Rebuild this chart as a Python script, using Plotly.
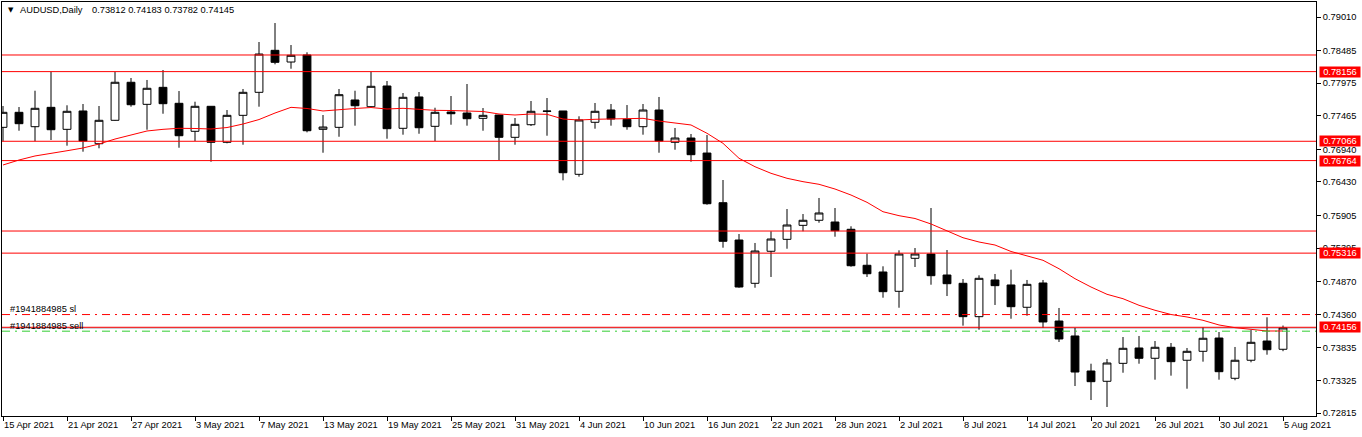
import plotly.graph_objects as go
import pandas as pd

# ---------------- data ----------------
dates = pd.bdate_range("2021-04-15", "2021-08-05")
idx = list(range(len(dates)))

opens = [0.77284, 0.77519, 0.77294, 0.77597, 0.77253, 0.77540, 0.77028, 0.77394, 0.77989, 0.77644,
         0.77910, 0.77660, 0.77222, 0.77613, 0.77050, 0.77472, 0.77832, 0.78489, 0.78306, 0.78416,
         0.77253, 0.77284, 0.77712, 0.77607, 0.77931, 0.77269, 0.77759, 0.77300, 0.77524, 0.77508,
         0.77425, 0.77477, 0.77128, 0.77325, 0.77540, 0.77540, 0.76549, 0.77363, 0.77555, 0.77410,
         0.77294, 0.77555, 0.77050, 0.77117, 0.76882, 0.76105, 0.75521, 0.74844, 0.75345, 0.75532,
         0.75751, 0.75830, 0.75803, 0.75689, 0.75126, 0.75021, 0.74719, 0.75235, 0.75302, 0.74974,
         0.74844, 0.74322, 0.74896, 0.74818, 0.74469, 0.74849, 0.74254, 0.74020, 0.73472, 0.73311,
         0.73592, 0.73832, 0.73671, 0.73843, 0.73640, 0.73780, 0.73988, 0.73358, 0.73640, 0.73941,
         0.73812]
highs = [0.77618, 0.77602, 0.77857, 0.78154, 0.77629, 0.77649, 0.77618, 0.78154, 0.78056, 0.78025,
         0.78181, 0.77852, 0.77685, 0.77618, 0.77555, 0.77884, 0.78619, 0.78916, 0.78572, 0.78458,
         0.77477, 0.77884, 0.77857, 0.78154, 0.78009, 0.77821, 0.77837, 0.77591, 0.77774, 0.77962,
         0.77586, 0.77482, 0.77430, 0.77696, 0.77743, 0.77540, 0.77457, 0.77665, 0.77649, 0.77633,
         0.77649, 0.77759, 0.77274, 0.77180, 0.77164, 0.76460, 0.75615, 0.75475, 0.75658, 0.76006,
         0.75928, 0.76179, 0.76022, 0.75736, 0.75307, 0.75110, 0.75360, 0.75396, 0.76022, 0.75365,
         0.74911, 0.74969, 0.74990, 0.75057, 0.74896, 0.74896, 0.74458, 0.74145, 0.73586, 0.73660,
         0.74004, 0.74020, 0.73941, 0.73910, 0.73832, 0.74156, 0.74082, 0.73848, 0.74114, 0.74312,
         0.74183]
lows = [0.77066, 0.77231, 0.77066, 0.77086, 0.76997, 0.76903, 0.76956, 0.77388, 0.77607, 0.77247,
        0.77497, 0.76965, 0.77070, 0.76746, 0.77034, 0.77012, 0.77607, 0.78270, 0.78201, 0.77206,
        0.76887, 0.77137, 0.77310, 0.77597, 0.77106, 0.77169, 0.77184, 0.77070, 0.77325, 0.77310,
        0.77231, 0.76773, 0.77012, 0.77305, 0.77153, 0.76455, 0.76512, 0.77263, 0.77310, 0.77247,
        0.77169, 0.76887, 0.76934, 0.76746, 0.76074, 0.75401, 0.74775, 0.74775, 0.74943, 0.75385,
        0.75658, 0.75792, 0.75573, 0.75104, 0.74943, 0.74619, 0.74462, 0.75099, 0.74822, 0.74645,
        0.74181, 0.74118, 0.74505, 0.74290, 0.74337, 0.74145, 0.73926, 0.73237, 0.73018, 0.72909,
        0.73445, 0.73586, 0.73336, 0.73399, 0.73195, 0.73618, 0.73336, 0.73327, 0.73608, 0.73727,
        0.73782]
closes = [0.77519, 0.77341, 0.77582, 0.77247, 0.77535, 0.77070, 0.77394, 0.77989, 0.77638, 0.77895,
          0.77654, 0.77153, 0.77613, 0.77050, 0.77472, 0.77832, 0.78431, 0.78301, 0.78411, 0.77231,
          0.77289, 0.77795, 0.77622, 0.77926, 0.77263, 0.77754, 0.77278, 0.77519, 0.77497, 0.77419,
          0.77472, 0.77128, 0.77331, 0.77535, 0.77535, 0.76574, 0.77399, 0.77535, 0.77414, 0.77294,
          0.77555, 0.77070, 0.77117, 0.76856, 0.76089, 0.75501, 0.74786, 0.75349, 0.75537, 0.75756,
          0.75830, 0.75944, 0.75667, 0.75119, 0.74994, 0.74713, 0.75302, 0.75302, 0.74963, 0.74838,
          0.74322, 0.74922, 0.74807, 0.74478, 0.74828, 0.74239, 0.73973, 0.73456, 0.73305, 0.73597,
          0.73827, 0.73671, 0.73843, 0.73618, 0.73780, 0.73984, 0.73461, 0.73640, 0.73921, 0.73805,
          0.74145]
ma_values = [0.76695, 0.76773, 0.76836, 0.76882, 0.76918, 0.76961, 0.77023, 0.77101, 0.77164, 0.77227,
             0.77253, 0.77269, 0.77266, 0.77258, 0.77281, 0.77336, 0.77406, 0.77508, 0.77597, 0.77579,
             0.77540, 0.77563, 0.77579, 0.77594, 0.77571, 0.77582, 0.77566, 0.77550, 0.77547, 0.77535,
             0.77532, 0.77493, 0.77477, 0.77493, 0.77488, 0.77414, 0.77399, 0.77410, 0.77414, 0.77414,
             0.77425, 0.77383, 0.77347, 0.77321, 0.77191, 0.77034, 0.76800, 0.76668, 0.76565, 0.76487,
             0.76434, 0.76393, 0.76319, 0.76225, 0.76111, 0.75964, 0.75902, 0.75858, 0.75772, 0.75670,
             0.75557, 0.75490, 0.75443, 0.75342, 0.75279, 0.75204, 0.75072, 0.74916, 0.74786, 0.74672,
             0.74603, 0.74500, 0.74422, 0.74356, 0.74317, 0.74265, 0.74192, 0.74150, 0.74124, 0.74098,
             0.74098]

level_lines = [0.78416, 0.78156, 0.77066, 0.76764, 0.75662, 0.75316, 0.74156]
labeled_levels = [0.78156, 0.77066, 0.76764, 0.75316, 0.74156]
sl_level = 0.74355
tp_level = 0.74095
bid_level = 0.74145

y_ticks = [0.79010, 0.78485, 0.77975, 0.77465, 0.76940, 0.76430, 0.75905,
           0.75395, 0.74870, 0.74360, 0.73835, 0.73325, 0.72815]
x_tick_idx = list(range(0, 81, 4))
x_tick_labels = ["15 Apr 2021", "21 Apr 2021", "27 Apr 2021", "3 May 2021", "7 May 2021",
                 "13 May 2021", "19 May 2021", "25 May 2021", "31 May 2021", "4 Jun 2021",
                 "10 Jun 2021", "16 Jun 2021", "22 Jun 2021", "28 Jun 2021", "2 Jul 2021",
                 "8 Jul 2021", "14 Jul 2021", "20 Jul 2021", "26 Jul 2021", "30 Jul 2021",
                 "5 Aug 2021"]
title_name = "AUDUSD,Daily"
title_ohlc = "0.73812 0.74183 0.73782 0.74145"
order_id = "#1941884985"

# ---------------- layout constants ----------------
W, H = 1362, 437
ML, MR, MT, MB = 2, 46, 2, 21
PW, PH = W - ML - MR, H - MT - MB
FONT = "Liberation Sans"
FS = 9.3


def pxx(x):
    return (x - ML) / PW


def pxy(y):
    return 1 - (y - MT) / PH


fig = go.Figure()

fig.add_trace(go.Candlestick(
    x=idx, open=opens, high=highs, low=lows, close=closes,
    increasing=dict(line=dict(color="black", width=1), fillcolor="white"),
    decreasing=dict(line=dict(color="black", width=1), fillcolor="black"),
    whiskerwidth=0, hoverinfo="skip", showlegend=False,
))

fig.add_trace(go.Scatter(
    x=idx, y=ma_values, mode="lines",
    line=dict(color="#ff0000", width=1), hoverinfo="skip", showlegend=False,
))

shapes = []
for lv in level_lines:
    shapes.append(dict(type="line", xref="paper", x0=0, x1=1, yref="y", y0=lv, y1=lv,
                       line=dict(color="#ff0000", width=1)))
shapes.append(dict(type="line", xref="paper", x0=0, x1=1, yref="y", y0=bid_level, y1=bid_level,
                   line=dict(color="#8a96a6", width=1), layer="below"))
shapes.append(dict(type="line", xref="paper", x0=0, x1=1, yref="y", y0=sl_level, y1=sl_level,
                   line=dict(color="#ff0000", width=1, dash="8px,5px,2px,5px")))
shapes.append(dict(type="line", xref="paper", x0=0, x1=1, yref="y", y0=tp_level, y1=tp_level,
                   line=dict(color="#32cd32", width=1, dash="8px,5px,2px,5px")))

annotations = []
# title
annotations.append(dict(text="▼", xref="paper", yref="paper", x=pxx(6), y=pxy(10),
                        xanchor="left", yanchor="middle", showarrow=False,
                        font=dict(family="DejaVu Sans", size=7, color="black")))
annotations.append(dict(text=title_name, xref="paper", yref="paper", x=pxx(18), y=pxy(10),
                        xanchor="left", yanchor="middle", showarrow=False,
                        font=dict(family=FONT, size=FS, color="black")))
annotations.append(dict(text=title_ohlc, xref="paper", yref="paper", x=pxx(90), y=pxy(10),
                        xanchor="left", yanchor="middle", showarrow=False,
                        font=dict(family=FONT, size=FS, color="black")))
# order labels
annotations.append(dict(text=order_id + " sl", xref="paper", yref="y", x=pxx(8), y=sl_level,
                        yshift=6, xanchor="left", yanchor="middle", showarrow=False,
                        font=dict(family=FONT, size=FS, color="black")))
annotations.append(dict(text=order_id + " sell", xref="paper", yref="y", x=pxx(8), y=labeled_levels[-1],
                        yshift=1, xanchor="left", yanchor="middle", showarrow=False,
                        font=dict(family=FONT, size=FS, color="black")))
# right-side price boxes
for lv in labeled_levels:
    annotations.append(dict(text=f"{lv:.5f}", xref="paper", yref="y", x=1, y=lv,
                            xshift=3, xanchor="left", yanchor="middle", showarrow=False,
                            bgcolor="#ff0000", width=40, height=10, borderpad=0,
                            align="center",
                            font=dict(family=FONT, size=FS, color="white")))

fig.update_layout(
    width=W, height=H,
    margin=dict(l=ML, r=MR, t=MT, b=MB, pad=0),
    paper_bgcolor="white", plot_bgcolor="white",
    showlegend=False, hovermode=False,
    shapes=shapes, annotations=annotations,
    font=dict(family=FONT, size=FS, color="black"),
    xaxis=dict(
        range=[-0.0625, 82.0625], tickmode="array", tickvals=x_tick_idx, ticktext=x_tick_labels,
        ticks="outside", ticklen=4, tickcolor="black", showgrid=False, zeroline=False,
        showline=True, linecolor="black", linewidth=1, mirror=True,
        ticklabelposition="outside right", rangeslider=dict(visible=False),
        tickfont=dict(family=FONT, size=FS, color="black"), fixedrange=True,
    ),
    yaxis=dict(
        range=[0.72768, 0.79245], side="right", tickmode="array", tickvals=y_ticks,
        ticktext=[f"{v:.5f}" for v in y_ticks],
        ticks="outside", ticklen=4, tickcolor="black", showgrid=False, zeroline=False,
        showline=True, linecolor="black", linewidth=1, mirror=True,
        tickfont=dict(family=FONT, size=FS, color="black"), fixedrange=True,
    ),
)

fig.write_html("out.html", config={"displayModeBar": False})
